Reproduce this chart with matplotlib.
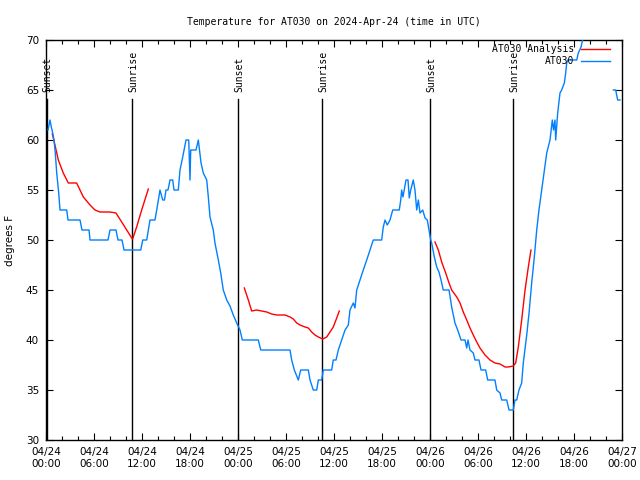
import numpy as np
import matplotlib
matplotlib.use("Agg")
import matplotlib.pyplot as plt

title = "Temperature for AT030 on 2024-Apr-24 (time in UTC)"
ylabel = "degrees F"

# hours since 04/24 00:00 UTC
obs_hours = [0.25, 0.5, 0.66, 0.84, 1.0, 1.16, 1.34, 1.59, 1.75, 2.59, 2.75, 4.25, 4.5, 5.38, 5.5, 7.75,
             8.0, 8.75, 9.0, 9.5, 9.75, 11.84, 12.09, 12.59, 12.79, 13.0, 13.62, 13.84, 14.25, 14.59,
             14.81, 15.0, 15.25, 15.5, 15.84, 16.0, 16.54, 16.75, 17.09, 17.5, 17.84, 18.0, 18.09,
             18.75, 19.04, 19.38, 19.66, 20.09, 20.29, 20.5, 20.91, 21.12, 21.54, 21.84, 22.16, 22.59,
             23.0, 23.41, 23.84, 24.25, 24.54, 26.54, 26.84, 30.5, 30.71, 31.04, 31.54, 31.84, 32.79,
             33.0, 33.41, 33.84, 34.04, 34.46, 34.66, 35.71, 35.91, 36.25, 36.54, 36.96, 37.38, 37.79,
             38.0, 38.41, 38.62, 38.84, 39.25, 39.66, 40.09, 40.5, 40.91, 41.96, 42.16, 42.38, 42.66,
             43.0, 43.34, 44.16, 44.34, 44.46, 44.62, 45.0, 45.25, 45.41, 45.59, 45.91, 46.12, 46.34,
             46.54, 46.75, 47.09, 47.38, 47.66, 47.91, 48.09, 48.21, 48.54, 48.84, 49.12, 49.38, 49.66,
             50.38, 50.71, 51.12, 51.46, 51.88, 52.38, 52.59, 52.75, 53.0, 53.41, 53.62, 54.12, 54.38,
             54.96, 55.21, 56.12, 56.34, 56.75, 56.96, 57.59, 57.88, 58.41, 58.62, 58.84, 59.12, 59.46,
             59.66, 60.09, 60.38, 60.71, 61.04, 61.34, 61.62, 61.96, 62.29, 62.59, 63.0, 63.29, 63.44,
             63.62, 63.71, 63.96, 64.25, 64.46, 64.79, 64.96, 65.09, 65.21, 66.34, 66.54, 66.88, 67.16,
             67.5, 69.0, 70.91, 71.21, 71.46, 71.75]
obs_temps = [61, 62, 61.3, 60.7, 60, 58.7, 56.7, 54.7, 53, 53, 52, 52, 51, 51, 50, 50,
             51, 51, 50, 50, 49, 49, 50, 50, 51, 52, 52, 53, 55, 54,
             54, 55, 55, 56, 56, 55, 55, 57, 58.3, 60, 60, 56, 59,
             59, 60, 57.7, 56.7, 56, 54.3, 52.3, 51, 49.7, 48, 46.7, 45, 44,
             43.4, 42.5, 41.7, 41, 40, 40, 39, 39, 38, 37, 36, 37, 37,
             36, 35, 35, 36, 36, 37, 37, 38, 38, 39, 40, 41, 41.5,
             43, 43.7, 43.2, 45, 46, 47, 48, 49, 50, 50, 51.3, 52, 51.5,
             52, 53, 53, 54, 55, 54.3, 56, 56, 54.2, 55, 56, 55, 53,
             54, 52.7, 53, 52.2, 52, 50.8, 50, 49.7, 48.3, 47.3, 46.8, 46, 45,
             45, 43.3, 41.7, 41, 40, 40, 39.2, 40, 39, 38.7, 38, 38, 37,
             37, 36, 36, 35, 34.7, 34, 34, 33, 33, 34, 34, 35, 35.7,
             37.7, 40.5, 42.7, 45.7, 48.3, 51, 53, 55, 57, 58.7, 60, 62, 61,
             62, 60, 62.7, 64.7, 65, 65.7, 66.7, 67.7, 68, 68, 68.7, 69.3, 70.3,
             71, np.nan, 65, 65, 64, 64]

ana_hours = [0.79, 1.12, 1.54, 2.16, 2.79, 3.83, 4.67, 5.5, 6.12, 6.75, 7.38, 8.0, 8.75, 9.46,
             10.09, 10.71, 10.83, 11.33, 11.96, 12.79, 18.0,
             24.79, 25.29, 25.71, 26.34, 26.96, 27.59, 28.21, 28.84, 29.88, 30.5, 30.91, 31.34,
             31.75, 32.38, 32.79, 33.21, 33.62, 34.04, 34.59, 35.09, 35.5, 35.91, 36.34, 36.66, 42.0,
             48.62, 49.04, 49.46, 49.96, 50.38, 50.71, 51.34, 51.75, 52.16, 52.59, 53.0, 53.41,
             53.84, 54.25, 54.88, 55.5, 56.12, 56.75, 57.38, 57.79, 58.41, 58.71, 59.04, 59.46,
             59.88, 60.29, 60.62]
ana_temps = [60.6, 59.5, 58, 56.7, 55.7, 55.7, 54.3, 53.5, 53, 52.8, 52.8, 52.8, 52.7, 51.8,
             51, 50.2, 50.1, 51.3, 53, 55.1, np.nan,
             45.2, 44, 42.9, 43, 42.9, 42.8, 42.6, 42.5, 42.5, 42.3, 42.1, 41.7,
             41.5, 41.3, 41.2, 40.8, 40.5, 40.3, 40.1, 40.3, 40.8, 41.3, 42.2, 42.9, np.nan,
             49.8, 49, 47.8, 46.7, 45.7, 45, 44.3, 43.7, 42.8, 42, 41.2, 40.5,
             39.8, 39.2, 38.5, 38, 37.7, 37.6, 37.3, 37.3, 37.4, 37.7, 39.3, 42,
             45, 47.3, 49]

sun_hours = [0.08, 10.71, 24.04, 34.54, 48.04, 58.41]
sun_labels = ["Sunset", "Sunrise", "Sunset", "Sunrise", "Sunset", "Sunrise"]

xtick_hours = [0, 6, 12, 18, 24, 30, 36, 42, 48, 54, 60, 66, 72]
xtick_labels = ["04/24\n00:00", "04/24\n06:00", "04/24\n12:00", "04/24\n18:00",
                "04/25\n00:00", "04/25\n06:00", "04/25\n12:00", "04/25\n18:00",
                "04/26\n00:00", "04/26\n06:00", "04/26\n12:00", "04/26\n18:00",
                "04/27\n00:00"]
ytick_vals = [30, 35, 40, 45, 50, 55, 60, 65, 70]

mono = "DejaVu Sans Mono"

fig = plt.figure(figsize=(6.4, 4.8), dpi=100)
ax = fig.add_axes([46/640, 1-440/480, 576/640, 400/480])

ax.plot(ana_hours, ana_temps, color="#ff0000", lw=1.0, label="AT030 Analysis", zorder=3)
ax.plot(obs_hours, obs_temps, color="#0080ff", lw=1.0, label="AT030", zorder=3)

for h, lab in zip(sun_hours, sun_labels):
    ax.plot([h, h], [30, 64.1], color="black", lw=1.0, zorder=2)
    ax.text(h + 0.15, 64.8, lab, rotation=90, ha="center", va="bottom",
            fontsize=7, family=mono, zorder=4)

ax.set_xlim(0, 72)
ax.set_ylim(30, 70)
ax.set_xticks(xtick_hours)
ax.set_xticklabels(xtick_labels)
ax.set_xticks(np.arange(0, 73, 2), minor=True)
ax.set_yticks(ytick_vals)
ax.tick_params(axis="both", which="both", direction="in", top=True, right=True,
               labelsize=7.5, pad=5, width=0.8)
ax.tick_params(axis="both", which="major", length=5)
ax.tick_params(axis="x", which="minor", length=3)
for s in ax.spines.values():
    s.set_linewidth(1.0)

ax.set_title(title, fontsize=7, family=mono, pad=11)
ax.set_ylabel(ylabel, fontsize=7.5, labelpad=8)

leg = ax.legend(loc="upper right", bbox_to_anchor=(0.979, 0.989), markerfirst=False,
                frameon=False, prop={"family": mono, "size": 7}, handlelength=3.0,
                handletextpad=0.7, borderpad=0.0, borderaxespad=0.0,
                labelspacing=0.18)

fig.savefig("out.png", dpi=100)
